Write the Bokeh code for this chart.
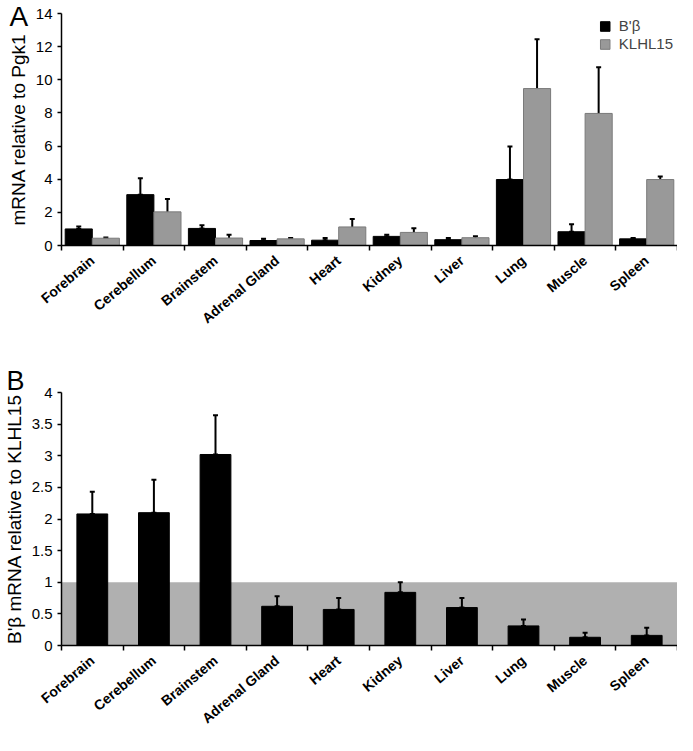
import numpy as np
from bokeh.plotting import figure
from bokeh.models import (ColumnDataSource, Whisker, TeeHead, FixedTicker, Legend,
                          LegendItem, BoxAnnotation, Range1d, Title)
from bokeh.layouts import column
from bokeh.embed import file_html
from bokeh.resources import INLINE

# ---------------- data ----------------
tissues = ["Forebrain", "Cerebellum", "Brainstem", "Adrenal Gland", "Heart",
           "Kidney", "Liver", "Lung", "Muscle", "Spleen"]

# Panel A: mRNA relative to Pgk1
a_bprime = [1.00, 3.07, 1.03, 0.30, 0.32, 0.55, 0.35, 3.98, 0.83, 0.40]
a_bprime_err = [0.15, 0.99, 0.19, 0.11, 0.13, 0.10, 0.10, 1.99, 0.45, 0.05]
a_klhl15 = [0.44, 2.03, 0.45, 0.40, 1.12, 0.79, 0.47, 9.47, 7.97, 3.98]
a_klhl15_err = [0.05, 0.78, 0.20, 0.05, 0.48, 0.25, 0.09, 2.98, 2.79, 0.18]
a_yticks = [0, 2, 4, 6, 8, 10, 12, 14]

# Panel B: B'beta mRNA relative to KLHL15
b_ratio = [2.08, 2.10, 3.02, 0.62, 0.57, 0.84, 0.60, 0.31, 0.13, 0.16]
b_ratio_err = [0.35, 0.52, 0.62, 0.16, 0.18, 0.16, 0.15, 0.10, 0.07, 0.12]
b_yticks = [0, 0.5, 1, 1.5, 2, 2.5, 3, 3.5, 4]
b_band_top = 1.0

series_names = ["B'\u03b2", "KLHL15"]
panel_letters = ["A", "B"]

FONT = "Liberation Sans"
n = len(tissues)
centers = [float(i) + 0.5 for i in range(n)]
bounds = [float(i) for i in range(n + 1)]
overrides = {c: t for c, t in zip(centers, tissues)}


def style(p, yticks, ylabel, ylabel_size):
    p.outline_line_color = None
    p.xgrid.visible = False
    p.ygrid.visible = False
    p.background_fill_color = "white"
    p.border_fill_color = "white"
    for ax in (p.xaxis[0], p.yaxis[0]):
        ax.axis_line_color = "black"
        ax.axis_line_width = 1.5
        ax.major_label_text_color = "black"
        ax.major_label_text_font = FONT
    xa = p.xaxis[0]
    xa.ticker = FixedTicker(ticks=centers, minor_ticks=bounds)
    xa.major_label_overrides = overrides
    xa.major_tick_out = 0
    xa.major_tick_in = 0
    xa.minor_tick_out = 5
    xa.minor_tick_in = 0
    xa.minor_tick_line_color = "black"
    xa.minor_tick_line_width = 1.5
    xa.major_label_orientation = 0.7
    xa.major_label_text_font_size = "14px"
    xa.major_label_text_font_style = "bold"
    xa.major_label_standoff = 8
    ya = p.yaxis[0]
    ya.ticker = FixedTicker(ticks=yticks)
    ya.minor_tick_out = 0
    ya.minor_tick_in = 0
    ya.major_tick_out = 4
    ya.major_tick_in = 0
    ya.major_tick_line_color = "black"
    ya.major_tick_line_width = 1.5
    ya.major_label_text_font_size = "15px"
    ya.major_label_standoff = 5
    ya.axis_label = ylabel
    ya.axis_label_text_font = FONT
    ya.axis_label_text_font_size = ylabel_size
    ya.axis_label_text_font_style = "normal"
    ya.axis_label_text_color = "black"
    ya.axis_label_standoff = 4


def letter(p, text, size, offset, standoff):
    p.add_layout(Title(text=text, align="left", offset=offset, standoff=standoff,
                       text_font=FONT, text_font_size=size,
                       text_font_style="normal", text_color="black"), "above")


# ---------------- panel A ----------------
pa = figure(width=677, height=335, output_backend="svg", toolbar_location=None,
            x_range=Range1d(0, n), y_range=Range1d(0, 14),
            min_border_left=52, min_border_right=0, min_border_top=13,
            min_border_bottom=84)
style(pa, a_yticks, "mRNA relative to Pgk1", "19px")

xa_black = [c - 0.22 for c in centers]
xa_gray = [c + 0.22 for c in centers]
src_a1 = ColumnDataSource(dict(x=xa_black, top=a_bprime,
                               upper=[v + e for v, e in zip(a_bprime, a_bprime_err)],
                               lower=a_bprime))
src_a2 = ColumnDataSource(dict(x=xa_gray, top=a_klhl15,
                               upper=[v + e for v, e in zip(a_klhl15, a_klhl15_err)],
                               lower=[v - e for v, e in zip(a_klhl15, a_klhl15_err)]))
r1 = pa.vbar(x="x", top="top", width=0.44, source=src_a1, fill_color="black",
             line_color="black", line_width=1)
r2 = pa.vbar(x="x", top="top", width=0.44, source=src_a2, fill_color="#999999",
             line_color="#7a7a7a", line_width=1)
for src in (src_a1, src_a2):
    w = Whisker(base="x", upper="upper", lower="lower", source=src,
                line_color="black", line_width=2,
                upper_head=TeeHead(size=5, line_color="black", line_width=2),
                lower_head=TeeHead(size=5, line_color="black", line_width=2))
    pa.add_layout(w)

legend = Legend(items=[LegendItem(label=series_names[0], renderers=[r1]),
                       LegendItem(label=series_names[1], renderers=[r2])],
                location="top_right", orientation="vertical",
                glyph_width=12, glyph_height=12, label_height=12,
                label_text_font=FONT, label_text_font_size="15px",
                label_standoff=8, spacing=1, padding=0, margin=4,
                border_line_color=None, background_fill_alpha=0)
pa.add_layout(legend)
letter(pa, panel_letters[0], "28px", -52, -37)

# ---------------- panel B ----------------
pb = figure(width=677, height=400, output_backend="svg", toolbar_location=None,
            x_range=Range1d(0, n), y_range=Range1d(0, 4),
            min_border_left=55, min_border_right=0, min_border_top=57,
            min_border_bottom=84)
style(pb, b_yticks, "B'\u03b2 mRNA relative to KLHL15", "19px")

pb.add_layout(BoxAnnotation(bottom=0, top=b_band_top, fill_color="#b0b0b0",
                            fill_alpha=1, line_color=None, level="underlay"))

src_b = ColumnDataSource(dict(x=centers, top=b_ratio,
                              upper=[v + e for v, e in zip(b_ratio, b_ratio_err)],
                              lower=b_ratio))
rb = pb.vbar(x="x", top="top", width=0.5, source=src_b, fill_color="black",
             line_color="black")
pb.add_layout(Whisker(base="x", upper="upper", lower="lower", source=src_b,
                      line_color="black", line_width=2,
                      upper_head=TeeHead(size=5, line_color="black", line_width=2),
                      lower_head=TeeHead(size=5, line_color="black", line_width=2)))
letter(pb, panel_letters[1], "27px", -55, -6)

layout = column(pa, pb, spacing=0)
open("out.html", "w").write(file_html(layout, INLINE))
